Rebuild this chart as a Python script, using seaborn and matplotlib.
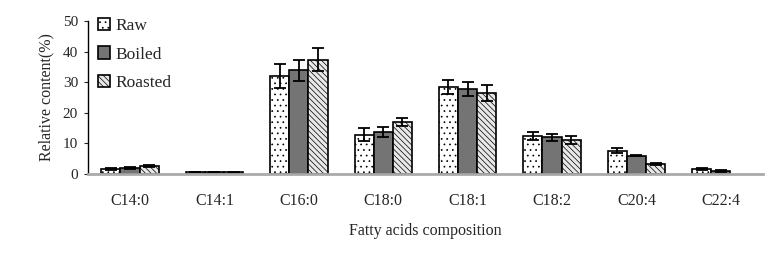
import matplotlib
matplotlib.use("Agg")
import matplotlib.pyplot as plt
import seaborn as sns
import pandas as pd
import numpy as np

sns.set_style("white")
plt.rcParams['font.family'] = ['Liberation Serif', 'DejaVu Serif']
plt.rcParams['hatch.linewidth'] = 0.5

# values
acids = ["C14:0", "C14:1", "C16:0", "C18:0", "C18:1", "C18:2", "C20:4", "C22:4"]
groups = ["Raw", "Boiled", "Roasted"]
raw = [1.7, 0.6, 32.0, 12.8, 28.4, 12.4, 7.6, 1.6]
boiled = [1.9, 0.6, 33.9, 13.8, 27.9, 12.0, 6.0, 1.0]
roasted = [2.6, 0.5, 37.4, 16.9, 26.6, 11.0, 3.3, 0.0]
raw_sd = [0.3, 0.1, 3.9, 2.1, 2.3, 1.3, 0.9, 0.2]
boiled_sd = [0.3, 0.1, 3.4, 1.7, 2.3, 1.2, 0.3, 0.3]
roasted_sd = [0.2, 0.2, 3.9, 1.3, 2.6, 1.3, 0.4, 0.0]

df = pd.DataFrame({
    "acid": acids * 3,
    "group": np.repeat(groups, len(acids)),
    "value": raw + boiled + roasted,
    "sd": raw_sd + boiled_sd + roasted_sd,
})

fig, ax = plt.subplots(figsize=(7.7, 2.7), dpi=100)
plt.subplots_adjust(left=0.114, right=0.991, bottom=0.356, top=0.922)

colors = {"Raw": "white", "Boiled": "#747474", "Roasted": "#e8e8e8"}
hatches = {"Raw": "...", "Boiled": "", "Roasted": "\\\\\\\\\\\\"}

sns.barplot(data=df, x="acid", y="value", hue="group", order=acids,
            hue_order=groups, palette=colors, errorbar=None,
            width=0.68, edgecolor="black", linewidth=1.2, ax=ax)

# hatches + error bars, one container per group
for cont, g in zip(ax.containers, groups):
    sds = df[df.group == g]["sd"].values
    for bar, s in zip(cont.patches, sds):
        bar.set_hatch(hatches[g])
        h = bar.get_height()
        if h <= 0:
            bar.set_visible(False)
            continue
        xc = bar.get_x() + bar.get_width() / 2
        if s > 0:
            ax.errorbar(xc, h, yerr=s, color="black", capsize=4.5,
                        elinewidth=1.3, capthick=1.3)

ax.set_ylim(0, 50)
ax.set_yticks(range(0, 51, 10))
ax.set_xlim(-0.5, len(acids) - 0.5)
ax.set_xticks(np.arange(-0.5, len(acids), 1.0), minor=True)
ax.tick_params(axis="x", which="major", length=0, labelsize=11.5, pad=14)
ax.tick_params(axis="x", which="minor", direction="in", length=3,
               color="#555555", width=1)
ax.tick_params(axis="y", direction="out", length=3, labelsize=11, pad=4,
               left=True)
ax.set_xlabel("Fatty acids composition", fontsize=11.5, labelpad=10)
ax.set_ylabel("Relative content(%)", fontsize=11.5, labelpad=6)

sns.despine(ax=ax)
ax.spines["left"].set_color("black")
ax.spines["left"].set_linewidth(1)
ax.spines["bottom"].set_color("#aaaaaa")
ax.spines["bottom"].set_linewidth(2)

leg = ax.legend(loc="upper left", bbox_to_anchor=(0.005, 1.065), frameon=False,
                fontsize=12.5, handlelength=0.7, handleheight=0.7,
                handletextpad=0.3, labelspacing=0.7, borderaxespad=0)
for p, g in zip(leg.get_patches(), groups):
    p.set_edgecolor("black")
    p.set_linewidth(1.2)
    p.set_hatch(hatches[g])

fig.savefig("out.png", dpi=100)
